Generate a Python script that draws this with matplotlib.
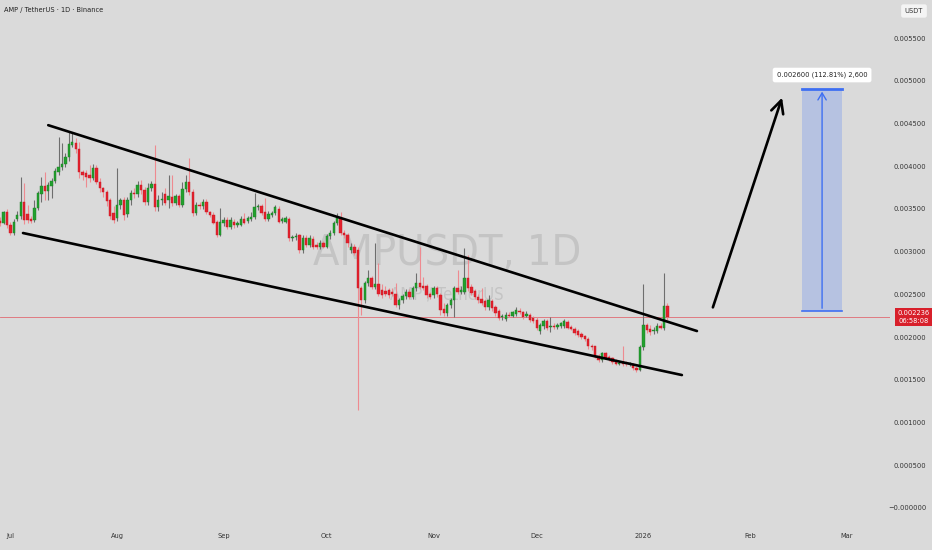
import numpy as np
import pandas as pd
import matplotlib
matplotlib.use("Agg")
import matplotlib.pyplot as plt
import matplotlib.dates as mdates
from matplotlib import font_manager
from matplotlib.font_manager import FontProperties
from matplotlib.patches import Rectangle

# daily candles AMP/USDT, prices in 1/1000 USDT, first candle 2025-06-28
start_day = "2025-06-28"

opens = [3.36, 3.34, 3.46, 3.31, 3.22, 3.38, 3.42, 3.58, 3.44, 3.38,
         3.37, 3.51, 3.67, 3.77, 3.71, 3.77, 3.83, 3.93, 3.99, 4.03,
         4.11, 4.25, 4.27, 4.20, 3.93, 3.92, 3.90, 3.86, 3.98, 3.82,
         3.74, 3.70, 3.60, 3.45, 3.39, 3.55, 3.60, 3.44, 3.60, 3.69,
         3.67, 3.78, 3.72, 3.58, 3.75, 3.79, 3.52, 3.60, 3.68, 3.60,
         3.64, 3.57, 3.65, 3.55, 3.73, 3.82, 3.70, 3.45, 3.55, 3.53,
         3.58, 3.46, 3.43, 3.35, 3.20, 3.34, 3.37, 3.29, 3.35, 3.31,
         3.31, 3.38, 3.36, 3.38, 3.40, 3.52, 3.53, 3.46, 3.38, 3.43,
         3.45, 3.50, 3.36, 3.35, 3.38, 3.16, 3.17, 3.19, 3.02, 3.16,
         3.08, 3.15, 3.08, 3.06, 3.10, 3.06, 3.18, 3.22, 3.33, 3.39,
         3.22, 3.20, 3.02, 3.06, 3.02, 2.57, 2.43, 2.63, 2.69, 2.59,
         2.62, 2.55, 2.54, 2.55, 2.53, 2.51, 2.37, 2.43, 2.48, 2.53,
         2.47, 2.57, 2.63, 2.60, 2.60, 2.51, 2.49, 2.57, 2.49, 2.33,
         2.28, 2.37, 2.43, 2.57, 2.53, 2.53, 2.69, 2.59, 2.54, 2.47,
         2.45, 2.42, 2.35, 2.42, 2.35, 2.31, 2.23, 2.21, 2.26, 2.25,
         2.27, 2.30, 2.29, 2.25, 2.26, 2.22, 2.20, 2.07, 2.13, 2.19,
         2.12, 2.13, 2.12, 2.13, 2.13, 2.18, 2.12, 2.10, 2.07, 2.04,
         2.01, 1.98, 1.90, 1.89, 1.78, 1.73, 1.81, 1.77, 1.75, 1.72,
         1.69, 1.71, 1.70, 1.68, 1.69, 1.64, 1.61, 1.88, 2.14, 2.10,
         2.07, 2.07, 2.13, 2.11, 2.36]

highs = [3.40, 3.48, 3.50, 3.35, 3.38, 3.47, 3.87, 3.80, 3.55, 3.42,
         3.60, 3.71, 3.87, 3.93, 3.82, 3.86, 3.98, 4.34, 4.27, 4.15,
         4.40, 4.39, 4.33, 4.28, 3.96, 3.95, 4.01, 4.02, 4.01, 3.86,
         3.76, 3.72, 3.63, 3.53, 3.98, 3.63, 3.64, 3.64, 3.72, 3.75,
         3.83, 3.84, 3.76, 3.80, 3.83, 4.25, 3.66, 3.70, 3.75, 3.90,
         3.90, 3.68, 3.68, 3.81, 3.90, 4.10, 3.73, 3.58, 3.58, 3.62,
         3.62, 3.48, 3.46, 3.37, 3.51, 3.40, 3.40, 3.40, 3.38, 3.36,
         3.42, 3.45, 3.42, 3.46, 3.69, 3.56, 3.56, 3.63, 3.47, 3.48,
         3.55, 3.53, 3.41, 3.42, 3.41, 3.20, 3.22, 3.21, 3.19, 3.20,
         3.19, 3.18, 3.11, 3.14, 3.13, 3.21, 3.25, 3.36, 3.45, 3.46,
         3.25, 3.22, 3.10, 3.09, 3.05, 2.60, 2.66, 2.78, 2.72, 3.10,
         2.87, 2.62, 2.60, 2.58, 2.57, 2.63, 2.46, 2.51, 2.56, 2.56,
         2.60, 2.75, 3.05, 2.70, 2.62, 2.53, 2.60, 2.60, 2.52, 2.40,
         2.40, 2.46, 2.60, 2.79, 2.60, 3.04, 2.96, 2.62, 2.56, 2.50,
         2.57, 2.45, 2.49, 2.45, 2.38, 2.33, 2.27, 2.29, 2.29, 2.31,
         2.35, 2.34, 2.31, 2.30, 2.28, 2.25, 2.23, 2.16, 2.21, 2.21,
         2.24, 2.16, 2.16, 2.18, 2.21, 2.20, 2.14, 2.12, 2.09, 2.06,
         2.03, 2.00, 1.92, 1.90, 1.80, 1.83, 1.82, 1.79, 1.77, 1.74,
         1.72, 1.90, 1.72, 1.71, 1.70, 1.66, 1.91, 2.62, 2.17, 2.14,
         2.12, 2.16, 2.17, 2.75, 2.40]

lows = [3.30, 3.32, 3.28, 3.19, 3.20, 3.36, 3.38, 3.32, 3.33, 3.33,
        3.35, 3.49, 3.58, 3.60, 3.60, 3.63, 3.80, 3.90, 3.95, 3.99,
        4.06, 4.22, 4.15, 3.86, 3.84, 3.76, 3.82, 3.84, 3.79, 3.70,
        3.64, 3.54, 3.38, 3.33, 3.36, 3.50, 3.37, 3.41, 3.55, 3.63,
        3.64, 3.68, 3.55, 3.55, 3.71, 3.48, 3.48, 3.55, 3.55, 3.51,
        3.54, 3.55, 3.52, 3.52, 3.70, 3.66, 3.42, 3.43, 3.50, 3.50,
        3.44, 3.40, 3.32, 3.17, 3.18, 3.30, 3.26, 3.27, 3.28, 3.29,
        3.30, 3.32, 3.34, 3.36, 3.38, 3.49, 3.43, 3.36, 3.36, 3.41,
        3.43, 3.33, 3.34, 3.33, 3.13, 3.13, 3.14, 2.99, 2.98, 3.05,
        3.05, 3.03, 3.03, 3.03, 3.04, 3.04, 3.15, 3.20, 3.31, 3.19,
        3.16, 3.06, 2.99, 2.96, 1.15, 2.26, 2.40, 2.60, 2.56, 2.56,
        2.48, 2.46, 2.48, 2.46, 2.48, 2.35, 2.33, 2.40, 2.45, 2.44,
        2.45, 2.54, 2.56, 2.55, 2.46, 2.44, 2.46, 2.47, 2.26, 2.25,
        2.25, 2.34, 2.24, 2.50, 2.50, 2.50, 2.54, 2.49, 2.44, 2.40,
        2.37, 2.32, 2.32, 2.31, 2.25, 2.20, 2.20, 2.19, 2.23, 2.23,
        2.25, 2.27, 2.21, 2.23, 2.18, 2.17, 2.08, 2.04, 2.10, 2.08,
        2.06, 2.10, 2.10, 2.11, 2.11, 2.09, 2.08, 2.03, 2.00, 1.98,
        1.95, 1.86, 1.85, 1.75, 1.71, 1.71, 1.74, 1.72, 1.69, 1.67,
        1.67, 1.66, 1.66, 1.66, 1.62, 1.59, 1.60, 1.85, 2.05, 2.03,
        2.04, 2.05, 2.09, 2.08, 2.20]

closes = [3.34, 3.46, 3.31, 3.22, 3.35, 3.43, 3.58, 3.37, 3.37, 3.36,
          3.51, 3.69, 3.77, 3.71, 3.78, 3.83, 3.94, 3.99, 4.03, 4.11,
          4.26, 4.28, 4.20, 3.93, 3.90, 3.87, 3.86, 3.98, 3.82, 3.74,
          3.70, 3.59, 3.42, 3.37, 3.55, 3.60, 3.43, 3.60, 3.69, 3.67,
          3.78, 3.72, 3.58, 3.75, 3.79, 3.52, 3.60, 3.61, 3.57, 3.65,
          3.57, 3.65, 3.55, 3.73, 3.82, 3.70, 3.45, 3.55, 3.53, 3.58,
          3.46, 3.43, 3.34, 3.20, 3.35, 3.37, 3.29, 3.37, 3.31, 3.33,
          3.38, 3.34, 3.39, 3.41, 3.52, 3.53, 3.45, 3.38, 3.44, 3.45,
          3.52, 3.35, 3.38, 3.39, 3.16, 3.17, 3.18, 3.02, 3.16, 3.08,
          3.16, 3.06, 3.06, 3.10, 3.06, 3.18, 3.22, 3.33, 3.39, 3.22,
          3.19, 3.10, 3.06, 2.99, 2.57, 2.43, 2.63, 2.69, 2.59, 2.62,
          2.51, 2.49, 2.51, 2.49, 2.51, 2.37, 2.43, 2.48, 2.53, 2.47,
          2.57, 2.63, 2.59, 2.58, 2.49, 2.47, 2.57, 2.50, 2.32, 2.28,
          2.37, 2.43, 2.57, 2.53, 2.55, 2.69, 2.57, 2.52, 2.47, 2.43,
          2.40, 2.35, 2.43, 2.34, 2.28, 2.22, 2.24, 2.26, 2.25, 2.29,
          2.32, 2.29, 2.24, 2.27, 2.20, 2.19, 2.11, 2.14, 2.19, 2.11,
          2.13, 2.12, 2.14, 2.16, 2.19, 2.11, 2.10, 2.05, 2.02, 2.00,
          1.98, 1.89, 1.88, 1.77, 1.73, 1.81, 1.76, 1.74, 1.71, 1.69,
          1.70, 1.68, 1.68, 1.69, 1.64, 1.61, 1.88, 2.14, 2.08, 2.06,
          2.08, 2.13, 2.11, 2.36, 2.236]

last_price = 0.002236
countdown = "06:58:08"

# drawn channel, arrow and target box (date, price)
upper_line = [("2025-07-12 00:00", 0.004480), ("2026-01-16 14:00", 0.002071)]
lower_line = [("2025-07-04 16:00", 0.003218), ("2026-01-12 05:00", 0.001556)]
arrow_pts = [("2026-01-20 23:00", 0.002317), ("2026-02-10 14:00", 0.004833)]
target_box = [("2026-02-16 03:00", 0.002305), ("2026-02-27 19:00", 0.004905)]
target_text = "0.002600 (112.81%) 2,600"

month_ticks = ["2025-07-01", "2025-08-01", "2025-09-01", "2025-10-01", "2025-11-01",
               "2025-12-01", "2026-01-01", "2026-02-01", "2026-03-01"]
month_labels = ["Jul", "Aug", "Sep", "Oct", "Nov", "Dec", "2026", "Feb", "Mar"]
price_ticks = np.arange(0, 0.00551, 0.0005)

# the screenshot text is narrow, so use a condensed face when there is one
narrow = None
for f in font_manager.fontManager.ttflist:
    if ("Narrow" in f.name or "Condensed" in f.name or f.stretch in ("condensed", "semi-condensed")) \
            and f.style == "normal" and f.weight in (400, "normal", "regular"):
        narrow = f.fname
        break
if narrow:
    small = FontProperties(fname=narrow, size=5.3)
    wm_big = FontProperties(fname=narrow, size=31)
    wm_small = FontProperties(fname=narrow, size=12)
else:
    small = FontProperties(family="Liberation Sans", size=5.0)
    wm_big = FontProperties(family="Liberation Sans", size=29)
    wm_small = FontProperties(family="Liberation Sans", size=11)

BG = "#dadada"
GREEN = "#22a12e"
RED = "#e5212d"
GREEN_WICK = "#6e6e6e"
RED_WICK = "#ee8a90"

o = np.array(opens) * 1e-3
h = np.array(highs) * 1e-3
l = np.array(lows) * 1e-3
c = np.array(closes) * 1e-3
days = mdates.date2num(pd.date_range(start_day, periods=len(o), freq="D"))
up = c >= o


def num(s):
    return mdates.date2num(pd.Timestamp(s))


fig = plt.figure(figsize=(9.32, 5.5), dpi=100, facecolor=BG)
ax = fig.add_axes([0, 25 / 550, 890 / 932, 525 / 550], facecolor=BG)

x0 = num(start_day) - 0.02
ax.set_xlim(x0, x0 + 890 / 3.44)
ax.set_ylim(-0.000199, 0.005945)

# watermark
ax.text(0.502, 0.4952, "AMPUSDT, 1D", transform=ax.transAxes, ha="center", va="baseline",
        fontproperties=wm_big, color="#c4c4c4", zorder=0)
ax.text(0.502, 0.4286, "AMP / TetherUS", transform=ax.transAxes, ha="center", va="baseline",
        fontproperties=wm_small, color="#c4c4c4", zorder=0)

ax.axhline(last_price, color="#e06a72", lw=0.6, zorder=1)

# candles
ax.vlines(days[up], l[up], h[up], color=GREEN_WICK, lw=0.8, zorder=2)
ax.vlines(days[~up], l[~up], h[~up], color=RED_WICK, lw=0.8, zorder=2)
body_h = np.maximum(np.abs(c - o), 0.000012)
ax.bar(days[up], body_h[up], bottom=np.minimum(o, c)[up], width=0.68,
       color=GREEN, edgecolor="#1a7a24", linewidth=0.3, zorder=3)
ax.bar(days[~up], body_h[~up], bottom=np.minimum(o, c)[~up], width=0.68,
       color=RED, edgecolor="#c01a25", linewidth=0.3, zorder=3)

# channel lines
for line in (upper_line, lower_line):
    ax.plot([num(line[0][0]), num(line[1][0])], [line[0][1], line[1][1]],
            color="black", lw=1.9, solid_capstyle="round", zorder=4)

ax.annotate("", xy=(num(arrow_pts[1][0]), arrow_pts[1][1]),
            xytext=(num(arrow_pts[0][0]), arrow_pts[0][1]),
            arrowprops=dict(arrowstyle="->,head_length=0.9,head_width=0.45", lw=1.9, color="black"),
            zorder=4)

# target box
bx0, bx1 = num(target_box[0][0]), num(target_box[1][0])
by0, by1 = target_box[0][1], target_box[1][1]
ax.add_patch(Rectangle((bx0, by0), bx1 - bx0, by1 - by0, facecolor="#2962ff", alpha=0.2,
                       edgecolor="none", zorder=2))
ax.plot([bx0, bx1], [by1, by1], color="#3e6ff2", lw=2.0, zorder=3)
ax.plot([bx0, bx1], [by0, by0], color="#3e6ff2", lw=1.2, zorder=3)
bxm = (bx0 + bx1) / 2
ax.annotate("", xy=(bxm, by1), xytext=(bxm, by0),
            arrowprops=dict(arrowstyle="->,head_length=0.5,head_width=0.3", lw=1.0, color="#3e6ff2"),
            zorder=3)
ax.text(bxm, 0.005067, target_text, ha="center", va="center", fontproperties=small,
        color="#222222", zorder=5,
        bbox=dict(boxstyle="round,pad=0.55,rounding_size=0.3", facecolor="white", edgecolor="none"))

# axes styling
for s in ax.spines.values():
    s.set_visible(False)
ax.yaxis.tick_right()
ax.set_yticks(price_ticks)
ax.set_yticklabels(["\u22120.000000" if v == 0 else f"{v:.6f}" for v in price_ticks])
ax.tick_params(axis="y", length=0, pad=26, labelcolor="#333333")
for lab in ax.get_yticklabels():
    lab.set_fontproperties(small)
    lab.set_horizontalalignment("right")
ax.set_xticks([num(m) for m in month_ticks])
ax.set_xticklabels(month_labels)
ax.tick_params(axis="x", length=0, pad=6, labelcolor="#333333")
for lab in ax.get_xticklabels():
    lab.set_fontproperties(small)

# last price tag
tr = matplotlib.transforms.blended_transform_factory(fig.transFigure, ax.transData)
ax.text(914 / 932, last_price, "0.002236\n" + countdown, transform=tr, ha="center", va="center",
        fontproperties=small, color="white", linespacing=1.25, clip_on=False, zorder=6,
        bbox=dict(boxstyle="square,pad=0.35", facecolor="#d8202b", edgecolor="none"))

# top texts
fig.text(4 / 932, 1 - 10 / 550, "AMP / TetherUS \u00b7 1D \u00b7 Binance", ha="left", va="center",
         fontproperties=small, color="#222222")
fig.text(914 / 932, 1 - 11 / 550, "USDT", ha="center", va="center", fontproperties=small,
         color="#333333",
         bbox=dict(boxstyle="round,pad=0.5,rounding_size=0.3", facecolor="#f4f4f4", edgecolor="none"))

fig.savefig("out.png", dpi=100, facecolor=BG)
